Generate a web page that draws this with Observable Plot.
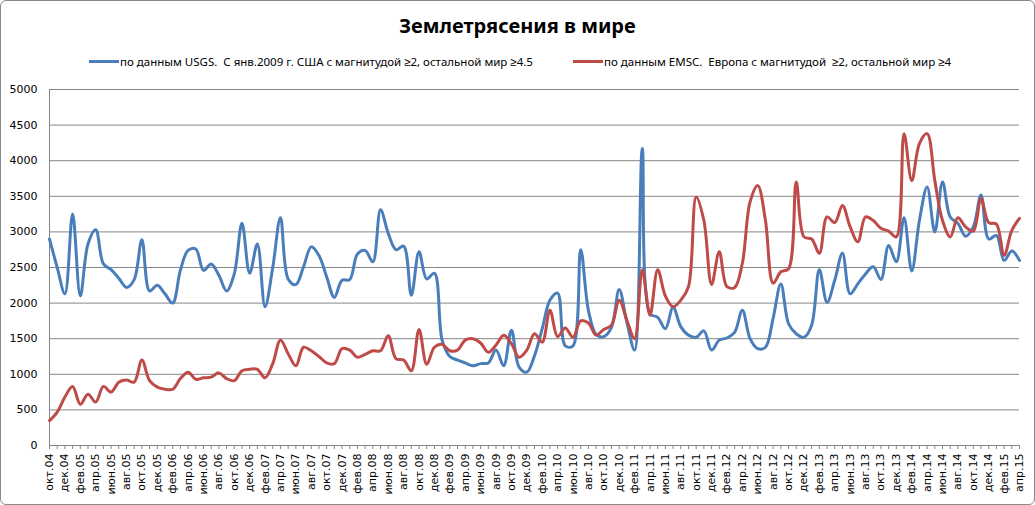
<!DOCTYPE html>
<html>
<head>
<meta charset="utf-8">
<script src="https://cdn.jsdelivr.net/npm/d3@7"></script>
<script src="https://cdn.jsdelivr.net/npm/@observablehq/plot@0.6"></script>
<style>
  html, body { margin: 0; padding: 0; background: #fff; }
  #frame { position: absolute; left: 0; top: 0; width: 1035px; height: 505px; box-sizing: border-box;
           border: 1px solid #8a8a8a; border-radius: 6px; pointer-events: none; }
  #title { position: absolute; left: 0; top: 12px; width: 1035px; text-align: center;
           font-family: "Noto Sans", "Open Sans", sans-serif; font-weight: bold; font-size: 20px; color: #000; }
  .leg { position: absolute; top: 54px; font-family: "Noto Sans", sans-serif; font-size: 11.5px; color: #000;
         display: flex; align-items: center; white-space: pre; }
  .leg .sw { display: inline-block; width: 30px; height: 3px; margin-right: 1px; }
  #plot { position: absolute; left: 0; top: 80px; }
</style>
</head>
<body>
<div id="title"></div>
<div class="leg" id="leg1" style="left:89px"><span class="sw"></span><span class="tx"></span></div>
<div class="leg" id="leg2" style="left:573px"><span class="sw"></span><span class="tx"></span></div>
<div id="plot"></div>
<div id="frame"></div>
<script>
const titleText = "Землетрясения в мире";
const seriesNames = [
  "по данным USGS.  С янв.2009 г. США с магнитудой ≥2, остальной мир ≥4.5",
  "по данным EMSC.  Европа с магнитудой  ≥2, остальной мир ≥4"
];
const seriesColors = ["#4a7ebb", "#be4b48"];

// months from окт.2004 to апр.2015
const monthNames = ["янв","фев","мар","апр","май","июн","июл","авг","сен","окт","ноя","дек"];
const startYear = 2004, startMonth = 9; // October (0-based)

const usgs = [
  2900,2500,2130,3250,2100,2830,3030,2550,2470,2350,2220,2330,2890,2170,2250,2130,2000,2460,2740,2760,
  2460,2550,2390,2170,2410,3120,2420,2830,1950,2500,3200,2340,2260,2510,2790,2670,2370,2080,2320,2330,
  2690,2740,2580,3310,2980,2750,2800,2110,2720,2340,2420,1480,1250,1200,1160,1120,1150,1160,1340,1120,
  1620,1100,1030,1260,1640,2040,2140,1400,1400,2750,1900,1560,1530,1660,2190,1730,1340,4170,1850,1800,
  1640,1940,1670,1550,1520,1610,1340,1480,1510,1590,1900,1500,1360,1380,1790,2270,1710,1570,1520,1690,
  2470,2010,2320,2700,2130,2270,2410,2510,2330,2810,2580,3200,2450,3160,3630,3000,3700,3210,3120,2940,
  3070,3520,2900,2950,2600,2730,2600
];
const emsc = [
  350,470,680,830,580,720,610,830,750,890,920,890,1200,910,820,790,790,940,1030,930,
  950,960,1020,940,910,1050,1070,1070,950,1150,1480,1290,1120,1380,1330,1250,1160,1150,1360,1340,
  1240,1280,1330,1330,1540,1220,1200,1050,1630,1140,1380,1420,1330,1340,1480,1500,1440,1310,1410,1550,
  1430,1240,1340,1570,1450,1900,1530,1650,1520,1750,1720,1550,1630,1690,2040,1760,1500,2470,1830,2470,
  2100,1950,2040,2230,3490,3160,2260,2720,2230,2220,2560,3420,3650,3160,2280,2440,2480,3700,2930,2900,
  2700,3210,3130,3370,3070,2860,3210,3160,3050,3010,2930,4380,3720,4240,4380,3720,3160,2930,3200,3070,
  3010,3470,3130,3110,2670,3020,3190
];
const yTicks = [0,500,1000,1500,2000,2500,3000,3500,4000,4500,5000];

const n = usgs.length;
const labels = d3.range(n).map(i => {
  const m = startMonth + i;
  const y = startYear + Math.floor(m / 12);
  return monthNames[m % 12] + "." + String(y % 100).padStart(2, "0");
});
const rows = [];
usgs.forEach((v, i) => rows.push({i, v, s: 0}));
emsc.forEach((v, i) => rows.push({i, v, s: 1}));

document.getElementById("title").textContent = titleText;
["leg1","leg2"].forEach((id, k) => {
  const el = document.getElementById(id);
  el.querySelector(".sw").style.background = seriesColors[k];
  el.querySelector(".tx").textContent = seriesNames[k];
});

const grid = "#868686";
const chart = Plot.plot({
  width: 1035,
  height: 425,
  marginTop: 9,
  marginBottom: 60,
  marginLeft: 49,
  marginRight: 16,
  style: {fontFamily: "DejaVu Sans, sans-serif", fontSize: "11px", color: "#000", background: "transparent"},
  x: {type: "linear", domain: [0, n - 1]},
  y: {domain: [0, 5000]},
  marks: [
    Plot.gridY(yTicks, {stroke: grid, strokeOpacity: 1}),
    Plot.axisY({ticks: yTicks, tickSize: 0, tickPadding: 12, tickFormat: d => String(d), label: null}),
    Plot.ruleX([0], {stroke: grid}),
    Plot.ruleY([0], {stroke: grid}),
    Plot.axisX({ticks: d3.range(n), tickSize: 4, stroke: grid, tickFormat: () => "", label: null}),
    Plot.axisX({ticks: d3.range(0, n, 2), tickSize: 0, tickPadding: 8, tickRotate: -90,
                tickFormat: i => labels[i], label: null}),
    Plot.line(rows.filter(d => d.s === 0), {x: "i", y: "v", stroke: seriesColors[0], strokeWidth: 3, curve: "catmull-rom"}),
    Plot.line(rows.filter(d => d.s === 1), {x: "i", y: "v", stroke: seriesColors[1], strokeWidth: 3, curve: "catmull-rom"})
  ]
});
document.getElementById("plot").appendChild(chart);
</script>
</body>
</html>
